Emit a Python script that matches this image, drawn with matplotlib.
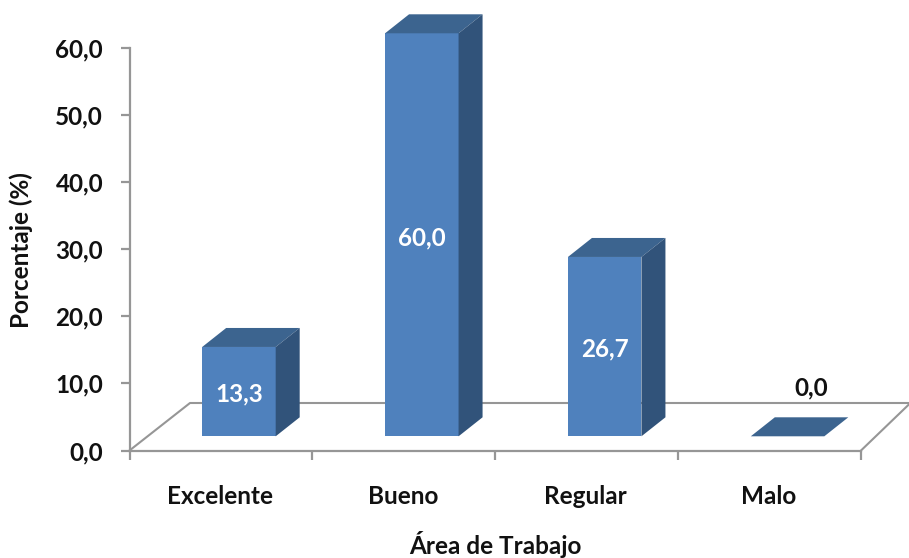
import matplotlib
matplotlib.use("Agg")
from matplotlib import pyplot as plt
from matplotlib.patches import Polygon

plt.rcParams['font.family'] = ['Lato', 'DejaVu Sans']

categories = ["Excelente", "Bueno", "Regular", "Malo"]
values = [13.3, 60.0, 26.7, 0.0]
y_ticks = [0, 10, 20, 30, 40, 50, 60]
x_title = "Área de Trabajo"
y_title = "Porcentaje (%)"

W, H = 909, 558
left, right, top, bottom = 129.5, 861, 47.5, 450.5

px_x = (right - left) / 4   # pixels per category
px_y = (bottom - top) / 60  # pixels per percent

front = "#4f81bd"
roof = "#3c648f"
side = "#31537a"
axis_col = "#969696"
text_col = "#111111"
font_size = 17.5

# 3d offsets, in data units
depth_x = 24 / px_x
depth_y = 19 / px_y
floor_x = 60.5 / px_x
floor_y = 47.5 / px_y
bar_w = 73.5 / px_x
bar_shift = 18 / px_x   # bars sit towards the back of the floor
bar_base = 14.2 / px_y

fig = plt.figure(figsize=(W / 100, H / 100), dpi=100)
ax = fig.add_axes([left / W, 1 - bottom / H, (right - left) / W, (bottom - top) / H])
ax.set_xlim(-0.5, 3.5)
ax.set_ylim(0, 60)

for s in ['top', 'right']:
    ax.spines[s].set_visible(False)
for s in ['left', 'bottom']:
    ax.spines[s].set_color(axis_col)
    ax.spines[s].set_linewidth(1.6)

# floor outline
ax.plot([-0.5, -0.5 + floor_x, 3.5 + floor_x * 0.8], [0, floor_y, floor_y],
        color=axis_col, lw=1.5, clip_on=False, zorder=1)
ax.plot([3.5, 3.5 + floor_x * 0.8], [0, floor_y * 0.98],
        color=axis_col, lw=1.5, clip_on=False, zorder=1)

xpos = [i + bar_shift for i in range(len(values))]
ax.bar(xpos, values, width=bar_w, bottom=bar_base, color=front, zorder=3, clip_on=False)

for x, v in zip(xpos, values):
    x0 = x - bar_w / 2
    x1 = x + bar_w / 2
    y1 = bar_base + v
    label = f"{v:.1f}".replace('.', ',')
    ax.add_patch(Polygon([(x0, y1), (x1, y1), (x1 + depth_x, y1 + depth_y), (x0 + depth_x, y1 + depth_y)],
                         closed=True, facecolor=roof, edgecolor='none', zorder=3, clip_on=False))
    if v > 0:
        ax.add_patch(Polygon([(x1, bar_base), (x1 + depth_x, bar_base + depth_y),
                              (x1 + depth_x, y1 + depth_y), (x1, y1)],
                             closed=True, facecolor=side, edgecolor='none', zorder=3, clip_on=False))
        ax.text(x, bar_base + v / 2 - 0.4, label, color='white', fontsize=font_size,
                fontweight='bold', ha='center', va='center', zorder=4)
    else:
        ax.text(x + depth_x, bar_base + depth_y + 4.3, label, color=text_col,
                fontsize=font_size, fontweight='bold', ha='center', va='center', zorder=4)

ax.set_yticks(y_ticks)
ax.set_yticklabels([f"{t:.1f}".replace('.', ',') for t in y_ticks],
                   fontsize=font_size, fontweight='bold', color=text_col)
ax.set_xticks([-0.5, 0.5, 1.5, 2.5, 3.5])
ax.set_xticklabels([])
ax.tick_params(axis='both', length=6.5, width=1.6, color=axis_col, direction='out')
ax.tick_params(axis='y', pad=12.5)

for i, name in enumerate(categories):
    ax.annotate(name, (i, 0), xycoords='data', xytext=(-0.8, -33), textcoords='offset points',
                fontsize=font_size, fontweight='bold', color=text_col, ha='center', va='center')

fig.text(495 / W, 1 - 545 / H, x_title, fontsize=font_size, fontweight='bold', color=text_col,
         ha='center', va='center')
fig.text(21 / W, 1 - 250 / H, y_title, fontsize=font_size, fontweight='bold', color=text_col,
         ha='center', va='center', rotation=90)

fig.savefig("out.png", dpi=100)
